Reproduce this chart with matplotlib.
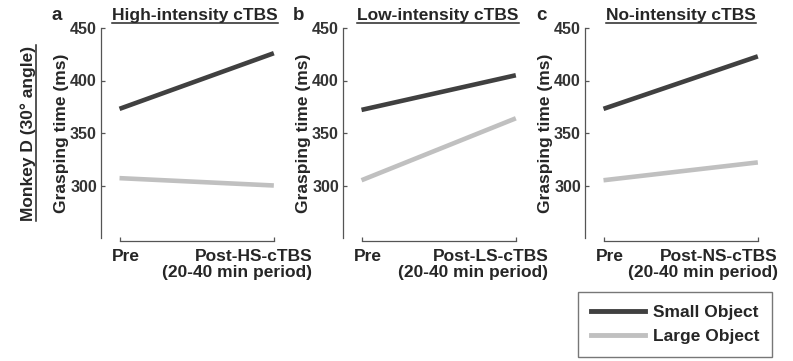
import matplotlib
matplotlib.use('Agg')
import matplotlib.pyplot as plt
from matplotlib.lines import Line2D

plt.rcParams['font.family'] = ['Liberation Sans', 'DejaVu Sans']
plt.rcParams['font.weight'] = 'bold'

# data (grasping time in ms)
timepoints = [0, 1]
panel_letters = ['a', 'b', 'c']
panel_titles = ['High-intensity cTBS', 'Low-intensity cTBS', 'No-intensity cTBS']
pre_label = 'Pre'
post_labels = ['Post-HS-cTBS\n(20-40 min period)',
               'Post-LS-cTBS\n(20-40 min period)',
               'Post-NS-cTBS\n(20-40 min period)']
small_object = [[373, 426], [372, 405], [373, 423]]
large_object = [[307, 300], [305, 364], [305, 322]]
yticks = [300, 350, 400, 450]
series_names = ['Small Object', 'Large Object']

SMALL_C = '#404040'
LARGE_C = '#c0c0c0'
TEXT_C = '#262626'
SPINE_C = '#555555'

W, H = 793, 361


def fx(px):
    return px / W


def fy(py):
    return 1 - py / H


fig = plt.figure(figsize=(W / 100, H / 100), dpi=100)

spine_left = [101, 343, 585]
post_x = [1.25, 1.21, 1.13]
title_cx = [195, 438, 681]
letter_cx = [57, 299, 541]

titles = []
for i in range(3):
    ax = fig.add_axes([fx(spine_left[i]), fy(238), 179 / W, 210 / H])
    ax.plot(timepoints, small_object[i], color=SMALL_C, lw=3.3, solid_capstyle='butt')
    ax.plot(timepoints, large_object[i], color=LARGE_C, lw=3.3, solid_capstyle='butt')
    ax.set_xlim(-0.12, 1.04)
    ax.set_ylim(250, 450)
    ax.set_yticks(yticks)
    ax.set_xticks(timepoints)
    ax.set_xticklabels([])
    for s in ['top', 'right']:
        ax.spines[s].set_visible(False)
    ax.spines['left'].set_bounds(250, 450)
    ax.spines['bottom'].set_bounds(0, 1)
    ax.spines['bottom'].set_position(('outward', 2))
    for s in ['left', 'bottom']:
        ax.spines[s].set_color(SPINE_C)
        ax.spines[s].set_linewidth(0.9)
    ax.tick_params(direction='in', length=3, width=0.9, color=SPINE_C,
                   labelcolor='#333333', labelsize=11.5, pad=3)
    ax.set_ylabel('Grasping time (ms)', fontsize=12.5, fontweight='bold',
                  color=TEXT_C, labelpad=1)

    xt = ax.get_xaxis_transform()
    ax.text(0.04, -0.052, pre_label, transform=xt, ha='center', va='top',
            fontsize=12.5, color=TEXT_C)
    ax.text(post_x[i], -0.052, post_labels[i], transform=xt, ha='right', va='top',
            multialignment='right', linespacing=1.1, fontsize=12.5, color=TEXT_C)

    fig.text(fx(letter_cx[i]), fy(20), panel_letters[i], ha='center', va='baseline',
             fontsize=13.5, color=TEXT_C)
    titles.append(fig.text(fx(title_cx[i]), fy(20), panel_titles[i], ha='center',
                           va='baseline', fontsize=12.5, color=TEXT_C))

monkey = fig.text(fx(33), fy(133), 'Monkey D (30° angle)', rotation=90,
                  rotation_mode='anchor', ha='center', va='baseline',
                  fontsize=12.5, color=TEXT_C)

# underlines
fig.canvas.draw()
renderer = fig.canvas.get_renderer()
for t in titles:
    bb = t.get_window_extent(renderer)
    fig.add_artist(Line2D([fx(bb.x0), fx(bb.x1)], [fy(22.5), fy(22.5)],
                          color=TEXT_C, lw=1.1))
bb = monkey.get_window_extent(renderer)
fig.add_artist(Line2D([fx(35.5), fx(35.5)], [bb.y0 / H, bb.y1 / H],
                      color=TEXT_C, lw=1.1))

handles = [Line2D([], [], color=SMALL_C, lw=3.5),
           Line2D([], [], color=LARGE_C, lw=3.5)]
leg = fig.legend(handles, series_names, loc='upper left',
                 bbox_to_anchor=(fx(578), fy(292)), borderaxespad=0,
                 frameon=True, fancybox=False, handlelength=3.1,
                 handletextpad=0.45, borderpad=0.75, labelspacing=0.5,
                 prop={'size': 12.5, 'weight': 'bold'})
leg.get_frame().set_edgecolor(SPINE_C)
leg.get_frame().set_linewidth(1.0)
for txt in leg.get_texts():
    txt.set_color(TEXT_C)

fig.savefig('out.png', dpi=100)
